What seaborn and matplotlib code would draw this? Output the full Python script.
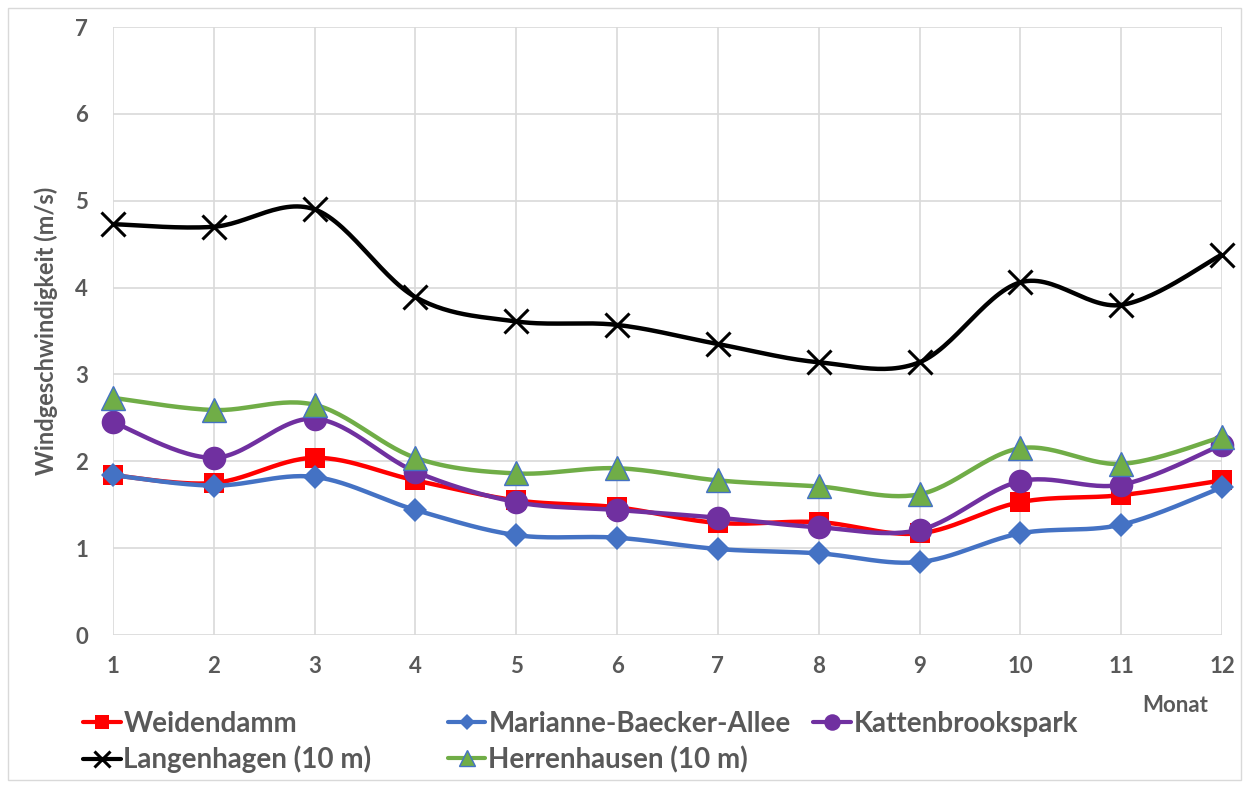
import numpy as np
import pandas as pd
import matplotlib
matplotlib.use("Agg")
import matplotlib.pyplot as plt
from matplotlib.lines import Line2D
from matplotlib.patches import Rectangle
import seaborn as sns

months = list(range(1, 13))
weidendamm = [1.84, 1.75, 2.04, 1.78, 1.55, 1.47, 1.29, 1.30, 1.17, 1.53, 1.61, 1.78]
marianne = [1.84, 1.72, 1.82, 1.44, 1.15, 1.12, 0.99, 0.94, 0.84, 1.17, 1.27, 1.70]
kattenbrook = [2.45, 2.04, 2.49, 1.88, 1.53, 1.44, 1.35, 1.24, 1.21, 1.77, 1.73, 2.19]
langenhagen = [4.73, 4.70, 4.90, 3.89, 3.61, 3.57, 3.35, 3.14, 3.14, 4.06, 3.80, 4.38]
herrenhausen = [2.73, 2.59, 2.65, 2.04, 1.86, 1.92, 1.78, 1.71, 1.62, 2.15, 1.97, 2.28]

series_names = ["Weidendamm", "Marianne-Baecker-Allee", "Kattenbrookspark",
                "Langenhagen (10 m)", "Herrenhausen (10 m)"]
series_values = [weidendamm, marianne, kattenbrook, langenhagen, herrenhausen]
y_ticks = [0, 1, 2, 3, 4, 5, 6, 7]

styles = {
    "Weidendamm": dict(color="#FF0000", marker="s", ms=15, mec="#FF0000", mew=0),
    "Marianne-Baecker-Allee": dict(color="#4472C4", marker="D", ms=12, mec="#4472C4", mew=0),
    "Kattenbrookspark": dict(color="#7030A0", marker="o", ms=17, mec="#7030A0", mew=0),
    "Langenhagen (10 m)": dict(color="#000000", marker="x", ms=17, mec="#000000", mew=2.2),
    "Herrenhausen (10 m)": dict(color="#70AD47", marker="^", ms=17, mec="#4472C4", mew=1),
}


def smooth(x, y, n=30):
    x = np.asarray(x, float)
    y = np.asarray(y, float)
    px = np.concatenate([[x[0]], x, [x[-1]]])
    py = np.concatenate([[y[0]], y, [y[-1]]])
    xs, ys = [], []
    t = np.linspace(0, 1, n)
    for i in range(1, len(px) - 2):
        p0 = np.array([px[i], py[i]])
        p3 = np.array([px[i + 1], py[i + 1]])
        c1 = p0 + (np.array([px[i + 1], py[i + 1]]) - np.array([px[i - 1], py[i - 1]])) / 6
        c2 = p3 - (np.array([px[i + 2], py[i + 2]]) - np.array([px[i], py[i]])) / 6
        b = ((1 - t)[:, None] ** 3 * p0 + 3 * ((1 - t) ** 2 * t)[:, None] * c1
             + 3 * ((1 - t) * t ** 2)[:, None] * c2 + (t ** 3)[:, None] * p3)
        xs.extend(b[:, 0])
        ys.extend(b[:, 1])
    return np.array(xs), np.array(ys)


sns.set_theme(style="white")
plt.rcParams["font.family"] = ["Lato", "DejaVu Sans"]
plt.rcParams["font.weight"] = "bold"

fig = plt.figure(figsize=(12.49, 7.87), dpi=100)
ax = fig.add_axes([113 / 1249, 1 - 635 / 787, (1222 - 113) / 1249, (635 - 27) / 787])

handles = {}
for z, (name, vals) in enumerate(zip(series_names, series_values)):
    st = styles[name]
    sx, sy = smooth(months, vals)
    sns.lineplot(x=sx, y=sy, ax=ax, color=st["color"], lw=3.2, sort=False,
                 estimator=None, zorder=3 + 2 * z)
    ax.plot(months, vals, ls="none", marker=st["marker"], ms=st["ms"],
            mfc=st["color"], mec=st["mec"], mew=st["mew"], zorder=4 + 2 * z,
            clip_on=False)
    handles[name] = Line2D([], [], color=st["color"], lw=3.0, marker=st["marker"],
                           ms=st["ms"] * 0.7, mfc=st["color"], mec=st["mec"],
                           mew=st["mew"])

ax.set_xlim(1, 12)
ax.set_ylim(0, 7)
ax.set_xticks(months)
ax.set_yticks(y_ticks)
ax.grid(True, color="#D9D9D9", lw=1.2)
for s in ax.spines.values():
    s.set_visible(False)
ax.tick_params(axis="both", length=0, labelsize=16, labelcolor="#595959")
ax.tick_params(axis="x", pad=15)
ax.tick_params(axis="y", pad=18)
for lab in ax.get_xticklabels() + ax.get_yticklabels():
    lab.set_fontweight("bold")
ax.set_ylabel("Windgeschwindigkeit (m/s)", fontsize=17, fontweight="bold",
              color="#595959", labelpad=12)
ax.set_xlabel("")

columns = [
    (83, ["Weidendamm", "Langenhagen (10 m)"]),
    (448, ["Marianne-Baecker-Allee", "Herrenhausen (10 m)"]),
    (813, ["Kattenbrookspark"]),
]
for xpix, names in columns:
    leg = fig.legend([handles[n] for n in names], names, loc="upper left",
                     bbox_to_anchor=(xpix / 1249, 1 - 711 / 787), frameon=False,
                     borderpad=0, borderaxespad=0, handlelength=1.35,
                     handletextpad=0.1, labelspacing=0.32,
                     prop={"weight": "bold", "size": 20})
    for t in leg.get_texts():
        t.set_color("#595959")

fig.text(1175 / 1249, 1 - 706 / 787, "Monat", ha="center", va="center",
         fontsize=16, fontweight="bold", color="#595959")

fig.add_artist(Rectangle((8 / 1249, 1 - 780 / 787), (1241 - 8) / 1249, (780 - 8) / 787,
                         transform=fig.transFigure, fill=False, ec="#D9D9D9", lw=1))

fig.savefig("out.png", dpi=100)
